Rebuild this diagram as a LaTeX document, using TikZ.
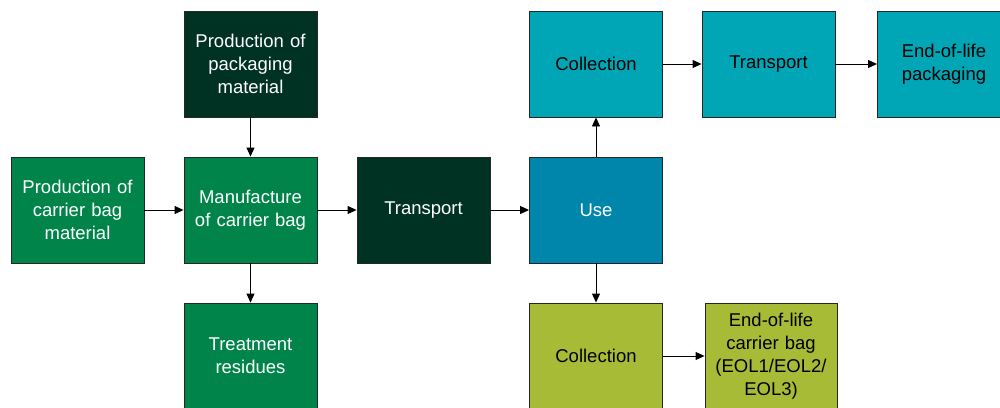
\documentclass[tikz,border=0pt]{standalone}
\usepackage{fontspec}
\setmainfont{Liberation Sans}
\usetikzlibrary{arrows.meta}
\definecolor{cgreen}{RGB}{0,132,74}
\definecolor{cdark}{RGB}{0,50,35}
\definecolor{cblue}{RGB}{0,133,171}
\definecolor{cteal}{RGB}{0,166,181}
\definecolor{colive}{RGB}{168,187,55}
\tikzset{
  box/.style={draw=black!85, line width=0.9pt, minimum width=133pt, minimum height=106pt,
    inner sep=2pt, align=center, font=\fontsize{18.5}{23}\selectfont, text width=125pt},
  wbox/.style={box, text=white},
  kbox/.style={box, text=black},
  arr/.style={draw=black, line width=0.9pt, -{Triangle[length=9pt,width=8pt]}}
}
\begin{document}
\begin{tikzpicture}[x=1pt,y=-1pt]
\clip (0,0) rectangle (1000,407);
\fill[white] (0,0) rectangle (1000,407);
\node[wbox, fill=cgreen] (pcb) at (77.5,210) {Production of\\carrier bag\\material};
\node[wbox, fill=cgreen] (man) at (250.5,210) {Manufacture\\of carrier bag};
\node[wbox, fill=cdark] (pkg) at (250.5,64) {Production of\\packaging\\material};
\node[wbox, fill=cgreen] (res) at (250.5,356) {Treatment\\residues};
\node[wbox, fill=cdark] (tra) at (423.5,210) {Transport};
\node[wbox, fill=cblue] (use) at (596,210) {Use};
\node[kbox, fill=cteal] (col1) at (596,64) {Collection};
\node[kbox, fill=cteal] (tra2) at (768.5,64) {Transport};
\node[kbox, fill=cteal] (eolp) at (944,64) {End-of-life\\packaging};
\node[kbox, fill=colive] (col2) at (596,356) {Collection};
\node[kbox, fill=colive, minimum width=132pt] (eolc) at (771,356) {End-of-life\\carrier bag\\(EOL1/EOL2/\\EOL3)};
\draw[arr] (pcb) -- (man);
\draw[arr] (pkg) -- (man);
\draw[arr] (man) -- (res);
\draw[arr] (man) -- (tra);
\draw[arr] (tra) -- (use);
\draw[arr] (use) -- (col1);
\draw[arr] (use) -- (col2);
\draw[arr] (col1) -- (tra2);
\draw[arr] (tra2) -- (eolp);
\draw[arr] (col2) -- (eolc);
\end{tikzpicture}
\end{document}
